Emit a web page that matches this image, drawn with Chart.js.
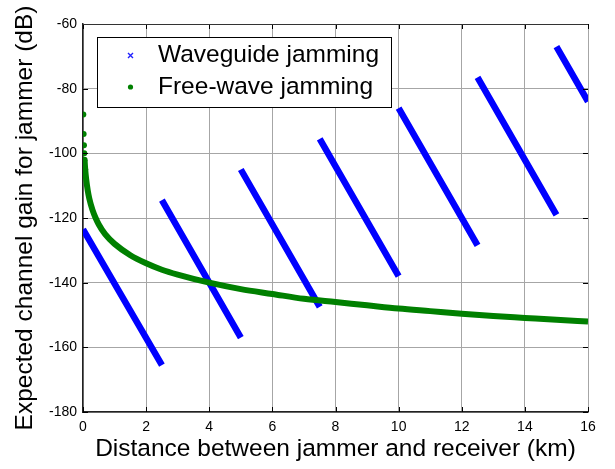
<!DOCTYPE html>
<html>
<head>
<meta charset="utf-8">
<script src="https://cdn.jsdelivr.net/npm/chart.js@4.4.0/dist/chart.umd.min.js"></script>
<style>
  html, body { margin: 0; padding: 0; background: #fff; }
  #wrap { width: 615px; height: 469px; }
</style>
</head>
<body>
<div id="wrap"><canvas id="gainChart" width="615" height="469"></canvas></div>
<script>
// ticks
var xTickValues = [0, 2, 4, 6, 8, 10, 12, 14, 16];
var yTickValues = [-180, -160, -140, -120, -100, -80, -60];

// waveguide jamming: straight runs, read at both ends (km, dB)
var guideStartKm = [0, 2.5, 5, 7.5, 10, 12.5, 15];
var guideStartDb = [-123.5, -114.5, -105, -95.5, -86, -76.5, -67];
var guideEndKm = [2.5, 5, 7.5, 10, 12.5, 15, 16];
var guideEndDb = [-165.5, -157, -147.5, -138, -128.5, -119, -84];

// free-wave jamming (km, dB)
var freeKm = [0.01, 0.02, 0.03, 0.04, 0.05, 0.07, 0.1, 0.15, 0.2, 0.3, 0.4, 0.5, 0.7, 1, 1.5, 2, 2.5, 3, 4, 5, 6, 7, 8, 9, 10, 11, 12, 13, 14, 15, 16];
var freeDb = [-88, -94, -97.5, -100, -102, -105, -108, -111.5, -114, -117.5, -120, -122, -125, -128, -131.5, -134, -136, -137.5, -140, -142, -143.5, -145, -146, -147, -148, -148.8, -149.6, -150.3, -150.9, -151.5, -152];

var guidePoints = [];
for (var i = 0; i < guideStartKm.length; i++) {
  guidePoints.push({ x: guideStartKm[i], y: guideStartDb[i] });
  guidePoints.push({ x: guideEndKm[i], y: guideEndDb[i] });
  guidePoints.push({ x: guideEndKm[i], y: null });
}
var freePoints = freeKm.map(function (d, i) { return { x: d, y: freeDb[i] }; });

var FONT = '"Liberation Sans", Arial, sans-serif';
Chart.defaults.font.family = FONT;
Chart.defaults.color = '#000';

// legend box inside the plot + inward ticks and top frame, matlab style
var boxLegend = {
  id: 'boxLegend',
  afterDraw: function (chart) {
    var ctx = chart.ctx, a = chart.chartArea;
    var xs = chart.scales.x, ys = chart.scales.y;
    ctx.save();
    ctx.strokeStyle = '#000';
    ctx.lineWidth = 1;
    ctx.beginPath();
    xTickValues.forEach(function (v) {
      var px = Math.round(xs.getPixelForValue(v)) + 0.5;
      ctx.moveTo(px, a.bottom); ctx.lineTo(px, a.bottom - 5);
      ctx.moveTo(px, a.top); ctx.lineTo(px, a.top + 5);
    });
    yTickValues.forEach(function (v) {
      var py = Math.round(ys.getPixelForValue(v)) + 0.5;
      ctx.moveTo(a.left, py); ctx.lineTo(a.left + 5, py);
      ctx.moveTo(a.right, py); ctx.lineTo(a.right - 5, py);
    });
    ctx.stroke();
    ctx.strokeStyle = '#333';
    ctx.beginPath();
    ctx.moveTo(a.left, a.top + 0.5); ctx.lineTo(a.right, a.top + 0.5);
    ctx.stroke();

    var bx = a.left + 14, by = a.top + 13, bw = 294, bh = 70;
    ctx.fillStyle = '#fff';
    ctx.fillRect(bx, by, bw, bh);
    ctx.strokeStyle = '#000';
    ctx.strokeRect(bx + 0.5, by + 0.5, bw, bh);

    // markers
    ctx.strokeStyle = '#2020ff';
    ctx.lineWidth = 1.4;
    ctx.beginPath();
    ctx.moveTo(bx + 31, by + 16); ctx.lineTo(bx + 36, by + 21);
    ctx.moveTo(bx + 36, by + 16); ctx.lineTo(bx + 31, by + 21);
    ctx.stroke();
    ctx.fillStyle = '#008000';
    ctx.beginPath();
    ctx.arc(bx + 33.5, by + 50, 2.6, 0, Math.PI * 2);
    ctx.fill();

    ctx.fillStyle = '#000';
    ctx.font = '24.5px ' + FONT;
    ctx.textBaseline = 'middle';
    ctx.textAlign = 'left';
    ctx.fillText('Waveguide jamming', bx + 61, by + 18);
    ctx.fillText('Free-wave jamming', bx + 61, by + 50);
    ctx.restore();
  }
};

var gainCtx = document.getElementById('gainChart').getContext('2d');
var gainChart = new Chart(gainCtx, {
  type: 'line',
  data: {
    datasets: [{
      label: 'Free-wave jamming',
      data: freePoints,
      borderColor: '#008000',
      backgroundColor: '#008000',
      borderWidth: 6,
      cubicInterpolationMode: 'monotone',
      pointRadius: function (c) { return c.dataIndex < 6 ? 3 : 0; },
      pointBorderWidth: 0,
      segment: {
        borderColor: function (c) { return c.p0DataIndex < 4 ? 'rgba(0,0,0,0)' : '#008000'; }
      },
      order: 0
    }, {
      label: 'Waveguide jamming',
      data: guidePoints,
      borderColor: '#0000ff',
      backgroundColor: '#0000ff',
      borderWidth: 6.5,
      pointRadius: 0,
      spanGaps: false,
      order: 1
    }]
  },
  options: {
    responsive: false,
    animation: false,
    layout: { padding: { top: 24, right: 27, left: 0, bottom: 0 } },
    plugins: {
      legend: { display: false },
      tooltip: { enabled: false }
    },
    scales: {
      x: {
        type: 'linear',
        min: 0,
        max: 16,
        afterBuildTicks: function (s) { s.ticks = xTickValues.map(function (v) { return { value: v }; }); },
        afterFit: function (s) { s.height = 57; },
        ticks: { font: { size: 14 }, color: '#000', padding: 7, maxRotation: 0 },
        grid: { color: '#a6a6a6', drawTicks: false },
        border: { color: '#222', width: 1.5 },
        title: {
          display: true,
          text: 'Distance between jammer and receiver (km)',
          font: { size: 24.5 },
          color: '#000',
          padding: { top: 0, bottom: 5 }
        }
      },
      y: {
        type: 'linear',
        min: -180,
        max: -60,
        afterBuildTicks: function (s) { s.ticks = yTickValues.map(function (v) { return { value: v }; }); },
        afterFit: function (s) { s.width = 83; },
        ticks: { font: { size: 14 }, color: '#000', padding: 6 },
        grid: { color: '#a6a6a6', drawTicks: false },
        border: { color: '#222', width: 1.5 },
        title: {
          display: true,
          text: 'Expected channel gain for jammer (dB)',
          font: { size: 24.5 },
          color: '#000',
          padding: { top: 11, bottom: 0 }
        }
      }
    }
  },
  plugins: [boxLegend]
});
</script>
</body>
</html>
